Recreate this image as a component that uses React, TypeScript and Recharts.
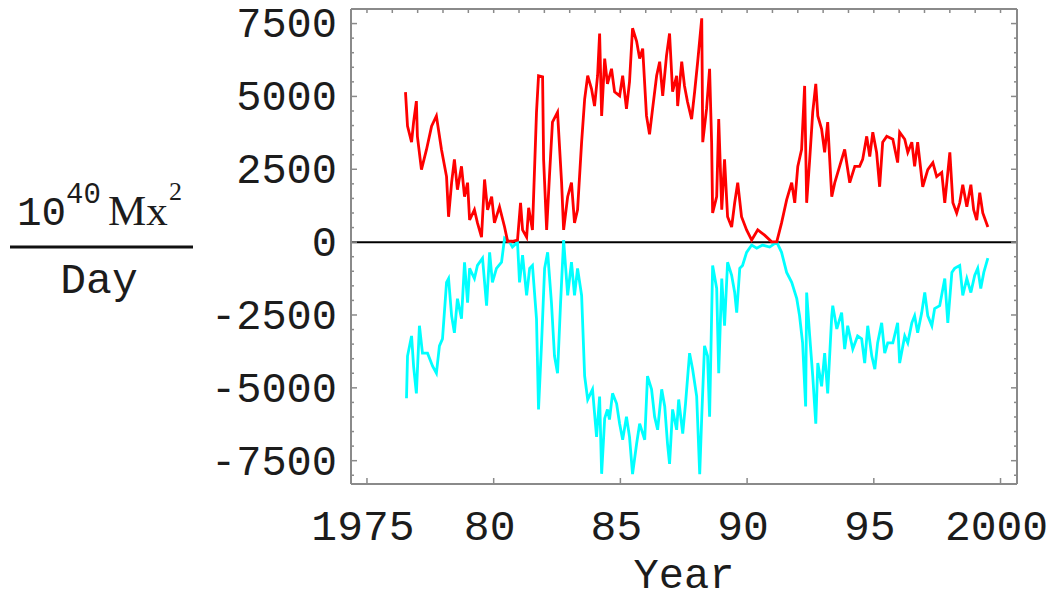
import React from "react";
import { LineChart, Line, XAxis, YAxis, ReferenceLine } from "recharts";

// red: positive flux series, cyan: negative flux series
const redYears = [
  1976.52, 1976.6, 1976.76, 1976.84, 1976.95, 1976.99, 1977.15, 1977.35, 1977.55, 1977.74,
  1977.94, 1978.14, 1978.22, 1978.34, 1978.45, 1978.57, 1978.73, 1978.85, 1978.97, 1979.05,
  1979.24, 1979.36, 1979.52, 1979.64, 1979.76, 1979.92, 1980.03, 1980.23, 1980.43, 1980.55,
  1980.74, 1980.94, 1981.06, 1981.14, 1981.3, 1981.38, 1981.53, 1981.69, 1981.77, 1981.93,
  1981.97, 1982.09, 1982.2, 1982.32, 1982.52, 1982.68, 1982.76, 1982.92, 1983.07, 1983.19,
  1983.31, 1983.47, 1983.59, 1983.71, 1983.86, 1983.98, 1984.1, 1984.18, 1984.26, 1984.38,
  1984.49, 1984.65, 1984.77, 1984.97, 1985.09, 1985.24, 1985.36, 1985.48, 1985.64, 1985.76,
  1985.88, 1986.03, 1986.15, 1986.27, 1986.43, 1986.55, 1986.67, 1986.82, 1986.94, 1987.06,
  1987.22, 1987.26, 1987.42, 1987.53, 1987.65, 1987.81, 1987.93, 1988.05, 1988.21, 1988.25,
  1988.4, 1988.52, 1988.6, 1988.64, 1988.8, 1988.88, 1989.0, 1989.11, 1989.23, 1989.39,
  1989.51, 1989.63, 1989.78, 1989.98, 1990.18, 1990.42, 1990.69, 1990.97, 1991.17, 1991.36,
  1991.56, 1991.76, 1991.88, 1992.0, 1992.15, 1992.27, 1992.35, 1992.47, 1992.59, 1992.71,
  1992.79, 1992.94, 1993.06, 1993.18, 1993.34, 1993.46, 1993.65, 1993.85, 1994.05, 1994.25,
  1994.44, 1994.56, 1994.72, 1994.84, 1994.96, 1995.11, 1995.23, 1995.35, 1995.51, 1995.75,
  1995.94, 1996.02, 1996.22, 1996.34, 1996.5, 1996.61, 1996.73, 1996.93, 1997.13, 1997.33,
  1997.48, 1997.68, 1997.8, 1998.0, 1998.12, 1998.27, 1998.39, 1998.51, 1998.67, 1998.83,
  1998.94, 1999.06, 1999.18, 1999.3, 1999.5,
];
const redValues = [
  5150, 3980, 3430, 4120, 4840, 3630, 2490, 3180, 3980, 4330,
  3180, 2250, 870, 2040, 2840, 1800, 2600, 1560, 2040, 760,
  1110, 660, 170, 2150, 1110, 1560, 660, 1210, 520, 30,
  30, 70, 1350, 420, 170, 1180, 420, 4460, 5710, 5670,
  2840, 420, 2250, 4120, 4460, 2040, 420, 1560, 2040, 660,
  1110, 3430, 4910, 5710, 5260, 4670, 5710, 7160, 4330, 6300,
  5430, 5950, 5160, 5020, 5710, 4570, 5500, 7340, 6890, 6300,
  6640, 4330, 3700, 4570, 5710, 6190, 5020, 6400, 7160, 5160,
  5710, 4670, 6190, 5360, 4810, 4220, 5160, 6190, 7680, 3430,
  4570, 5950, 3430, 1000, 1560, 4220, 1110, 2840, 870, 520,
  1350, 2040, 870, 420, 70, 420, 240, 10, 10, 660,
  1450, 2040, 1350, 2600, 3180, 5360, 1350, 2840, 4460, 5430,
  4330, 3880, 3080, 4120, 1560, 2040, 2600, 3180, 2040, 2600,
  2600, 2840, 3630, 2940, 3770, 3080, 1900, 3430, 3630, 3530,
  2730, 3770, 3530, 3080, 3430, 2600, 3430, 1900, 2490, 2730,
  2250, 2390, 1350, 3080, 1350, 1000, 1350, 1970, 1210, 1970,
  1110, 760, 1700, 1000, 520,
];

const cyanYears = [
  1976.56, 1976.6, 1976.76, 1976.84, 1976.95, 1977.07, 1977.19, 1977.39, 1977.59, 1977.74,
  1977.86, 1977.98, 1978.14, 1978.22, 1978.34, 1978.45, 1978.57, 1978.73, 1978.85, 1978.97,
  1979.05, 1979.24, 1979.36, 1979.56, 1979.72, 1979.84, 1979.95, 1980.11, 1980.31, 1980.43,
  1980.63, 1980.74, 1980.94, 1981.02, 1981.14, 1981.3, 1981.42, 1981.53, 1981.69, 1981.77,
  1981.89, 1982.01, 1982.13, 1982.28, 1982.4, 1982.52, 1982.64, 1982.76, 1982.92, 1983.07,
  1983.19, 1983.31, 1983.47, 1983.59, 1983.71, 1983.9, 1984.06, 1984.18, 1984.26, 1984.38,
  1984.49, 1984.57, 1984.69, 1984.85, 1984.97, 1985.09, 1985.24, 1985.36, 1985.48, 1985.64,
  1985.76, 1985.96, 1986.07, 1986.23, 1986.35, 1986.47, 1986.63, 1986.75, 1986.86, 1986.94,
  1987.06, 1987.22, 1987.3, 1987.46, 1987.57, 1987.73, 1987.85, 1988.01, 1988.13, 1988.21,
  1988.32, 1988.44, 1988.52, 1988.64, 1988.8, 1988.88, 1989.0, 1989.11, 1989.23, 1989.39,
  1989.51, 1989.59, 1989.71, 1989.82, 1989.98, 1990.18, 1990.38, 1990.61, 1990.89, 1991.17,
  1991.36, 1991.56, 1991.76, 1991.96, 1992.07, 1992.19, 1992.31, 1992.35, 1992.47, 1992.59,
  1992.71, 1992.79, 1992.94, 1993.06, 1993.18, 1993.34, 1993.38, 1993.54, 1993.73, 1993.85,
  1993.97, 1994.17, 1994.36, 1994.52, 1994.64, 1994.76, 1994.92, 1995.04, 1995.15, 1995.31,
  1995.43, 1995.55, 1995.75, 1995.94, 1996.02, 1996.22, 1996.34, 1996.5, 1996.61, 1996.73,
  1996.89, 1997.01, 1997.13, 1997.29, 1997.4, 1997.6, 1997.8, 1997.92, 1998.08, 1998.19,
  1998.39, 1998.51, 1998.67, 1998.83, 1998.98, 1999.1, 1999.22, 1999.34, 1999.5,
];
const cyanValues = [
  -5360, -3910, -3220, -4260, -5190, -2870, -3810, -3810, -4260, -4500,
  -3560, -3320, -1380, -1250, -2530, -3110, -1940, -2630, -690, -2080,
  -900, -1250, -800, -550, -2180, -350, -1380, -900, -690, 140,
  0, -170, 0, -1380, -450, -1830, -900, -800, -2630, -5740,
  -3460, -900, -350, -2080, -3910, -4500, -2080, 70, -1830, -690,
  -1830, -900, -1830, -4600, -5400, -5050, -6680, -5300, -7950, -6050,
  -5740, -6090, -5190, -5540, -6230, -6780, -5990, -6680, -7960, -6920,
  -6230, -6780, -4600, -5050, -5990, -6440, -5050, -5640, -6920, -7610,
  -5740, -6440, -5400, -6570, -5540, -3810, -4360, -5290, -7960, -5990,
  -3560, -3910, -5990, -800, -1590, -4500, -1250, -2870, -690, -1140,
  -1730, -2420, -900, -800, -350, -100, -210, -100, -170, 0,
  -350, -1040, -1380, -1940, -2530, -3460, -5640, -1730, -3220, -4600,
  -6230, -4150, -4950, -3810, -5190, -2530, -2180, -2980, -2420, -3670,
  -2870, -3670, -3220, -3320, -4150, -2870, -3910, -4360, -3460, -2770,
  -3810, -3460, -3460, -2770, -4150, -3220, -3460, -2770, -2530, -3110,
  -2420, -1730, -2530, -2870, -2280, -2180, -1250, -2770, -1040, -900,
  -800, -1830, -1250, -1730, -1140, -900, -1590, -1040, -550,
];

const xMajor = [1975, 1980, 1985, 1990, 1995, 2000];
const xMajorLabels = ["1975", "80", "85", "90", "95", "2000"];
const xMinor = [
  1975, 1976, 1977, 1978, 1979, 1980, 1981, 1982, 1983, 1984, 1985, 1986, 1987,
  1988, 1989, 1990, 1991, 1992, 1993, 1994, 1995, 1996, 1997, 1998, 1999, 2000,
];
const yTicks = [
  -8000, -7500, -7000, -6500, -6000, -5500, -5000, -4500, -4000, -3500, -3000, -2500,
  -2000, -1500, -1000, -500, 0, 500, 1000, 1500, 2000, 2500, 3000, 3500, 4000, 4500,
  5000, 5500, 6000, 6500, 7000, 7500,
];

const redData = redYears.map((year, i) => ({ year, value: redValues[i] }));
const cyanData = cyanYears.map((year, i) => ({ year, value: cyanValues[i] }));

const FRAME = "#8a8a8a";
const MONO = "'Liberation Mono', 'Courier New', monospace";
const SERIF = "'Liberation Serif', 'Times New Roman', serif";
const TEXT = "#1c1c1c";

// ticks point inward, like the original frame
const BottomTick = (props: any) => {
  const { x, y, payload } = props;
  const idx = xMajor.indexOf(payload.value);
  return (
    <g>
      <line x1={x} y1={y} x2={x} y2={y - 6} stroke={FRAME} strokeWidth={1.5} />
      {idx >= 0 && (
        <text x={x - 4} y={y + 56} textAnchor="middle" fontFamily={MONO} fontSize={43} fill={TEXT}>
          {xMajorLabels[idx]}
        </text>
      )}
    </g>
  );
};

const TopTick = (props: any) => {
  const { x, y } = props;
  return <line x1={x} y1={y} x2={x} y2={y + 4} stroke={FRAME} strokeWidth={1.5} />;
};

const LeftTick = (props: any) => {
  const { x, y, payload } = props;
  const major = payload.value % 2500 === 0;
  return (
    <g>
      <line x1={x} y1={y} x2={x + (major ? 6 : 3)} y2={y} stroke={FRAME} strokeWidth={1.5} />
      {major && (
        <text x={x - 14} y={y} dy="0.33em" textAnchor="end" fontFamily={MONO} fontSize={42} fill={TEXT}>
          {payload.value}
        </text>
      )}
    </g>
  );
};

const RightTick = (props: any) => {
  const { x, y, payload } = props;
  const major = payload.value % 2500 === 0;
  return <line x1={x} y1={y} x2={x - (major ? 6 : 3)} y2={y} stroke={FRAME} strokeWidth={1.5} />;
};

const UnitLabel = () => (
  <g fill={TEXT}>
    <text x={9} y={217} fontFamily={MONO} fontSize={41}>10</text>
    <text x={58} y={195} fontFamily={MONO} fontSize={29}>40</text>
    <text x={100} y={217} fontFamily={SERIF} fontSize={43}>Mx</text>
    <text x={161} y={192} fontFamily={SERIF} fontSize={26}>2</text>
    <line x1={2} y1={239} x2={185} y2={239} stroke="#111" strokeWidth={3} />
    <text x={91} y={285} textAnchor="middle" fontFamily={MONO} fontSize={43}>Day</text>
  </g>
);

const YearLabel = (props: any) => {
  const vb = props.viewBox || { x: 343, width: 666 };
  return (
    <text x={vb.x + vb.width / 2} y={580} textAnchor="middle" fontFamily={MONO} fontSize={42} fill={TEXT}>
      Year
    </text>
  );
};

export default function App() {
  return (
    <div style={{ width: 1047, height: 593, background: "#fff" }}>
      <LineChart width={1047} height={593} margin={{ top: 0, right: 37, bottom: 0, left: 0 }}>
        <XAxis
          dataKey="year"
          type="number"
          domain={[1974.37, 2000.65]}
          allowDataOverflow
          ticks={xMajor}
          interval={0}
          height={117}
          tickSize={0}
          tickMargin={0}
          tickLine={false}
          axisLine={{ stroke: FRAME, strokeWidth: 2 }}
          tick={<BottomTick />}
          label={<YearLabel />}
        />
        <XAxis
          xAxisId="top"
          orientation="top"
          dataKey="year"
          type="number"
          domain={[1974.37, 2000.65]}
          allowDataOverflow
          ticks={xMinor}
          interval={0}
          height={1}
          tickSize={0}
          tickMargin={0}
          tickLine={false}
          axisLine={{ stroke: FRAME, strokeWidth: 2 }}
          tick={<TopTick />}
        />
        <YAxis
          type="number"
          domain={[-8300, 8000]}
          allowDataOverflow
          ticks={yTicks}
          interval={0}
          width={343}
          tickSize={0}
          tickMargin={0}
          tickLine={false}
          axisLine={{ stroke: FRAME, strokeWidth: 2 }}
          tick={<LeftTick />}
          label={<UnitLabel />}
        />
        <YAxis
          yAxisId="right"
          orientation="right"
          type="number"
          domain={[-8300, 8000]}
          allowDataOverflow
          ticks={yTicks}
          interval={0}
          width={1}
          tickSize={0}
          tickMargin={0}
          tickLine={false}
          axisLine={{ stroke: FRAME, strokeWidth: 2 }}
          tick={<RightTick />}
        />
        <ReferenceLine y={0} stroke="#000" strokeWidth={2} />
        <Line
          data={cyanData}
          dataKey="value"
          stroke="#00ffff"
          strokeWidth={2.8}
          dot={false}
          isAnimationActive={false}
        />
        <Line
          data={redData}
          dataKey="value"
          stroke="#ff0000"
          strokeWidth={2.8}
          dot={false}
          isAnimationActive={false}
        />
      </LineChart>
    </div>
  );
}
